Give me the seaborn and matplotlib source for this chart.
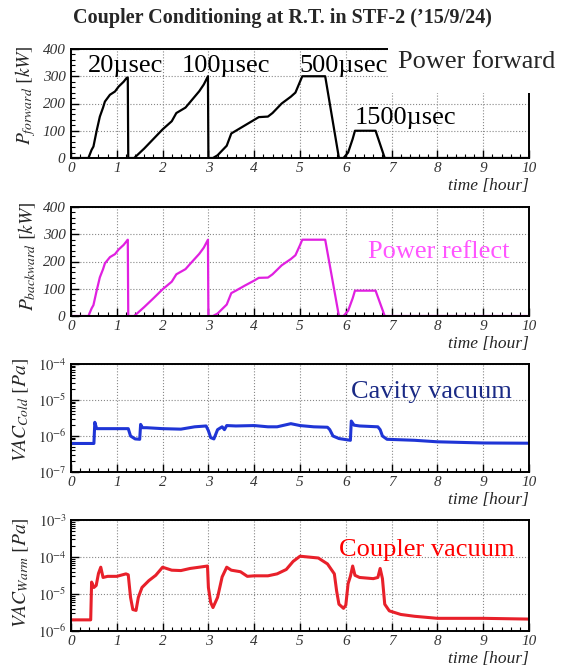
import numpy as np
import matplotlib
matplotlib.use("Agg")
import matplotlib.pyplot as plt
from matplotlib.patches import Rectangle
from matplotlib.ticker import FuncFormatter, MultipleLocator, LogLocator, NullFormatter
import seaborn as sns

sns.set_style("white")
plt.rcParams['font.family'] = ['Liberation Serif', 'DejaVu Serif']
plt.rcParams['mathtext.fontset'] = 'stix'

# --- data (time in hours) ---
t_power = [0, 0.38, 0.45, 0.49, 0.56, 0.63, 0.70, 0.74, 0.85, 0.96,
           1.04, 1.15, 1.22, 1.24, 1.25, 1.38, 1.60, 1.80, 2.00, 2.20,
           2.30, 2.50, 2.60, 2.80, 2.90, 2.99, 3.00, 3.10, 3.20, 3.40,
           3.50, 3.60, 3.80, 4.00, 4.10, 4.30, 4.40, 4.60, 4.80, 4.90,
           5.00, 5.05, 5.55, 5.85, 5.95, 6.05, 6.15, 6.20, 6.65, 6.85,
           10.0]
p_forward = [0, 0, 30, 42, 100, 152, 185, 207, 232, 244,
             262, 280, 295, 295, 0, 0, 35, 70, 105, 135,
             165, 185, 205, 245, 270, 300, 0, 0, 10, 45,
             90, 100, 120, 140, 150, 152, 165, 200, 225, 240,
             280, 300, 300, 0, 0, 20, 70, 100, 100, 0,
             0]
p_backward = [0, 0, 28, 40, 93, 142, 172, 193, 216, 227,
              244, 261, 276, 280, 0, 0, 33, 65, 98, 126,
              153, 172, 191, 228, 251, 280, 0, 0, 9, 42,
              84, 93, 112, 130, 140, 141, 153, 186, 209, 223,
              260, 280, 280, 0, 0, 19, 65, 93, 93, 0,
              0]

t_cold = [0, 0.50, 0.52, 0.56, 0.65, 1.00, 1.25, 1.30, 1.40, 1.50,
          1.52, 1.56, 1.65, 2.00, 2.40, 2.70, 2.95, 3.00, 3.05, 3.12,
          3.20, 3.30, 3.35, 3.40, 3.60, 4.00, 4.30, 4.50, 4.80, 5.00,
          5.30, 5.60, 5.65, 5.72, 5.85, 6.10, 6.12, 6.18, 6.30, 6.70,
          6.75, 6.80, 6.90, 7.50, 8.00, 9.00, 10.0]
vac_cold = [6.2e-7, 6.2e-7, 2.4e-6, 1.6e-6, 1.6e-6, 1.6e-6, 1.6e-6, 1.0e-6, 8.3e-7, 8.1e-7,
            2.1e-6, 1.7e-6, 1.7e-6, 1.6e-6, 1.55e-6, 1.8e-6, 1.9e-6, 1.4e-6, 9.0e-7, 8.3e-7,
            1.5e-6, 1.8e-6, 1.5e-6, 1.95e-6, 1.9e-6, 1.95e-6, 1.8e-6, 1.8e-6, 2.2e-6, 1.95e-6,
            1.8e-6, 1.75e-6, 1.5e-6, 1.0e-6, 8.5e-7, 7.6e-7, 2.6e-6, 2.0e-6, 1.9e-6, 1.8e-6,
            1.5e-6, 1.0e-6, 8.1e-7, 7.6e-7, 6.9e-7, 6.4e-7, 6.3e-7]

t_warm = [0, 0.43, 0.45, 0.50, 0.55, 0.60, 0.65, 0.70, 0.80, 1.00,
          1.20, 1.25, 1.30, 1.35, 1.42, 1.47, 1.55, 1.70, 1.85, 2.00,
          2.20, 2.40, 2.60, 2.80, 2.98, 3.00, 3.05, 3.10, 3.20, 3.30,
          3.40, 3.50, 3.70, 3.85, 4.00, 4.30, 4.50, 4.70, 4.85, 5.00,
          5.40, 5.60, 5.75, 5.80, 5.85, 5.95, 6.00, 6.05, 6.10, 6.15,
          6.20, 6.30, 6.60, 6.70, 6.75, 6.80, 6.85, 6.95, 7.20, 7.50,
          8.00, 9.00, 10.0]
vac_warm = [2.0e-6, 2.0e-6, 2.1e-5, 1.5e-5, 1.7e-5, 3.6e-5, 5.3e-5, 2.8e-5, 3.0e-5, 3.0e-5,
            3.5e-5, 3.3e-5, 8.1e-6, 3.8e-6, 3.6e-6, 8.1e-6, 1.5e-5, 2.3e-5, 3.2e-5, 5.3e-5,
            4.4e-5, 4.3e-5, 4.9e-5, 5.3e-5, 5.7e-5, 1.5e-5, 5.9e-6, 4.3e-6, 8.1e-6, 2.9e-5,
            5.3e-5, 4.4e-5, 4.0e-5, 3.0e-5, 3.1e-5, 3.1e-5, 3.5e-5, 4.6e-5, 7.6e-5, 1.05e-4,
            9.4e-5, 6.5e-5, 3.5e-5, 1.2e-5, 5.3e-6, 4.1e-6, 5.0e-6, 1.9e-5, 3.0e-5, 5.7e-5,
            3.2e-5, 2.8e-5, 2.6e-5, 2.8e-5, 4.9e-5, 2.6e-5, 5.3e-6, 3.5e-6, 2.8e-6, 2.5e-6,
            2.2e-6, 2.2e-6, 2.1e-6]

pulse_labels = ["20\u00b5sec", "100\u00b5sec", "500\u00b5sec", "1500\u00b5sec"]
pulse_x = [0.37, 2.42, 4.98, 6.2]
pulse_y = [337, 337, 337, 148]

W, H = 568, 668
fig = plt.figure(figsize=(W / 100, H / 100), dpi=100)


def rect(top, bottom):
    return [71 / W, 1 - bottom / H, (529 - 71) / W, (bottom - top) / H]


def style_axes(ax):
    ax.set_xlim(0, 10)
    ax.set_xticks(range(11), [str(i) for i in range(11)],
                  fontstyle='italic', fontsize=11, color='#333333')
    ax.xaxis.set_minor_locator(MultipleLocator(0.2))
    ax.tick_params(which='both', direction='in', top=False, right=False,
                   bottom=True, left=True, colors='black', labelcolor='#333333')
    ax.tick_params(which='major', length=6, width=1)
    ax.tick_params(which='minor', length=3, width=0.8)
    ax.tick_params(axis='x', which='both', pad=3)
    ax.tick_params(axis='y', which='both', pad=4)
    ax.grid(True, which='major', ls=':', color='#888888', lw=0.8)
    for s in ax.spines.values():
        s.set_linewidth(1.4)
        s.set_color('black')
    ax.set_xlabel('time [hour]', loc='right', fontstyle='italic',
                  fontsize=12.5, labelpad=2)


def style_linear(ax, ylabel, ypos):
    ax.set_ylim(0, 400)
    ax.set_yticks([0, 100, 200, 300, 400], ['0', '100', '200', '300', '400'],
                  fontstyle='italic', fontsize=11)
    ax.yaxis.set_minor_locator(MultipleLocator(20))
    ax.set_ylabel(ylabel, fontsize=14)
    ax.yaxis.set_label_coords(-0.072, ypos)


def style_log(ax, lo, hi, ylabel, ypos):
    ax.set_yscale('log')
    ax.set_ylim(lo, hi)
    ax.yaxis.set_major_locator(LogLocator(base=10, numticks=10))
    ax.yaxis.set_minor_locator(LogLocator(base=10, subs=np.arange(2, 10), numticks=20))
    ax.yaxis.set_minor_formatter(NullFormatter())
    ax.yaxis.set_major_formatter(
        FuncFormatter(lambda v, p: r'$\mathit{10^{%d}}$' % round(np.log10(v))))
    ax.tick_params(axis='y', labelsize=10.5, pad=3)
    ax.set_ylabel(ylabel, fontsize=14)
    ax.yaxis.set_label_coords(-0.088, ypos)


# panel 1: forward power
ax1 = fig.add_axes(rect(49, 158))
sns.lineplot(x=t_power, y=p_forward, ax=ax1, color='black', lw=1.6,
             estimator=None, sort=False)
style_axes(ax1)
style_linear(ax1, r'$P_{forward}\ [kW]$', 0.58)
for lab, x, y in zip(pulse_labels, pulse_x, pulse_y):
    ax1.text(x, y, lab, fontsize=19, ha='left', va='center', color='black')

# panel 2: reflected power
ax2 = fig.add_axes(rect(207, 316))
sns.lineplot(x=t_power, y=p_backward, ax=ax2, color='#e020e0', lw=1.6,
             estimator=None, sort=False)
style_axes(ax2)
style_linear(ax2, r'$P_{backward}\ [kW]$', 0.55)
ax2.text(6.48, 235, 'Power reflect', fontsize=19, color='#ff55ff',
         ha='left', va='center')

# panel 3: cavity vacuum
ax3 = fig.add_axes(rect(364, 472))
sns.lineplot(x=t_cold, y=vac_cold, ax=ax3, color='#1f35d6', lw=2.2,
             estimator=None, sort=False)
style_axes(ax3)
style_log(ax3, 1e-7, 1e-4, r'$VAC_{Cold}\ [Pa]$', 0.57)
ax3.text(6.11, 10 ** -4.78, 'Cavity vacuum', fontsize=19, color='#1a2a85',
         ha='left', va='center')

# panel 4: coupler vacuum
ax4 = fig.add_axes(rect(520, 631))
sns.lineplot(x=t_warm, y=vac_warm, ax=ax4, color='#e8202a', lw=2.2,
             estimator=None, sort=False)
style_axes(ax4)
style_log(ax4, 1e-6, 1e-3, r'$VAC_{Warm}\ [Pa]$', 0.53)
ax4.text(5.85, 10 ** -3.81, 'Coupler vacuum', fontsize=19, color='#ff0000',
         ha='left', va='center')

# white patch behind "Power forward" hides the frame corner, as in the original
fig.patches.append(Rectangle((388 / W, 1 - 93 / H), (W - 388) / W, 60 / H,
                             transform=fig.transFigure, facecolor='white',
                             edgecolor='none', zorder=2))
fig.text(398 / W, 1 - 62 / H, 'Power forward', fontsize=19, ha='left',
         va='center', zorder=3)

fig.text(0.497, 1 - 18 / H, 'Coupler Conditioning at R.T. in STF-2 (\u201915/9/24)',
         ha='center', va='center', fontsize=14.5, fontweight='bold')

fig.savefig('out.png', dpi=100)
